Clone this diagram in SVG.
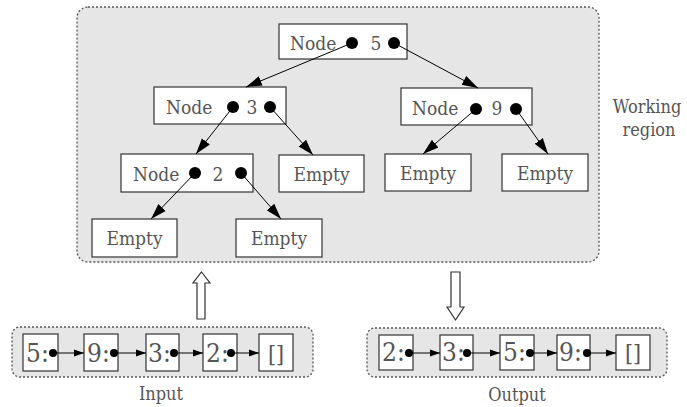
<svg xmlns="http://www.w3.org/2000/svg" width="687" height="407" viewBox="0 0 687 407">
  <style>
    .region { fill: #e6e6e6; stroke: #555; stroke-width: 1.3; stroke-dasharray: 2 2; }
    .box { fill: #fff; stroke: #333; stroke-width: 1.2; }
    .t { font-family: "DejaVu Serif Condensed", "DejaVu Serif", serif; font-stretch: condensed; fill: #555; }
    .lbl { font-size: 19px; }
    .side { font-size: 18px; }
    .cell { font-size: 26px; }
    .nil { font-size: 23px; }
    .dot { fill: #000; }
    .edge { stroke: #000; stroke-width: 1; fill: none; }
    .hollow { fill: #fff; stroke: #333; stroke-width: 1.2; }
  </style>
  <defs>
    <marker id="big" markerUnits="userSpaceOnUse" markerWidth="17" markerHeight="13" refX="16" refY="6.5" orient="auto">
      <path d="M0,1.5 L16,6.5 L0,11.5 Z" fill="#000"/>
    </marker>
    <marker id="small" markerUnits="userSpaceOnUse" markerWidth="11" markerHeight="8" refX="10" refY="4" orient="auto">
      <path d="M0,0.5 L10,4 L0,7.5 Z" fill="#000"/>
    </marker>
  </defs>

  <!-- Working region -->
  <g id="working">
    <rect class="region" x="77" y="7" width="522" height="255" rx="11"/>
    <text class="t side" x="647" y="113" text-anchor="middle">Working</text>
    <text class="t side" x="649" y="136" text-anchor="middle">region</text>
  </g>

  <!-- Tree nodes -->
  <g id="node5">
    <rect class="box" x="279" y="24" width="128" height="35"/>
    <text class="t lbl" x="290" y="50">Node</text>
    <text class="t lbl" x="376" y="50" text-anchor="middle">5</text>
    <circle class="dot" cx="352" cy="43" r="6"/>
    <circle class="dot" cx="394" cy="43" r="6"/>
  </g>
  <g id="node3">
    <rect class="box" x="154" y="87" width="132" height="37"/>
    <text class="t lbl" x="166" y="114">Node</text>
    <text class="t lbl" x="252" y="114" text-anchor="middle">3</text>
    <circle class="dot" cx="233" cy="107" r="6"/>
    <circle class="dot" cx="270" cy="107" r="6"/>
  </g>
  <g id="node9">
    <rect class="box" x="401" y="88" width="131" height="37"/>
    <text class="t lbl" x="412" y="115">Node</text>
    <text class="t lbl" x="497" y="115" text-anchor="middle">9</text>
    <circle class="dot" cx="476" cy="109" r="6"/>
    <circle class="dot" cx="516" cy="109" r="6"/>
  </g>
  <g id="node2">
    <rect class="box" x="121" y="154" width="132" height="38"/>
    <text class="t lbl" x="133" y="181">Node</text>
    <text class="t lbl" x="218" y="181" text-anchor="middle">2</text>
    <circle class="dot" cx="195" cy="173" r="6"/>
    <circle class="dot" cx="241" cy="173" r="6"/>
  </g>
  <g id="empty3r">
    <rect class="box" x="279" y="155" width="85" height="37"/>
    <text class="t lbl" x="321.5" y="181" text-anchor="middle">Empty</text>
  </g>
  <g id="empty9l">
    <rect class="box" x="385" y="154" width="86" height="37"/>
    <text class="t lbl" x="428" y="180" text-anchor="middle">Empty</text>
  </g>
  <g id="empty9r">
    <rect class="box" x="502" y="154" width="86" height="37"/>
    <text class="t lbl" x="545" y="180" text-anchor="middle">Empty</text>
  </g>
  <g id="empty2l">
    <rect class="box" x="92" y="219" width="85" height="38"/>
    <text class="t lbl" x="134.5" y="245" text-anchor="middle">Empty</text>
  </g>
  <g id="empty2r">
    <rect class="box" x="236" y="219" width="86" height="38"/>
    <text class="t lbl" x="279" y="245" text-anchor="middle">Empty</text>
  </g>

  <!-- Input list -->
  <g id="input">
    <rect class="region" x="12" y="327" width="301" height="50" rx="8"/>
    <rect class="box" x="23" y="334" width="35" height="37"/>
    <text class="t cell" x="26" y="362">5:</text>
    <circle class="dot" cx="53" cy="353" r="4"/>
    <rect class="box" x="84" y="334" width="34" height="37"/>
    <text class="t cell" x="87" y="362">9:</text>
    <circle class="dot" cx="114" cy="353" r="4"/>
    <rect class="box" x="146" y="334" width="33" height="37"/>
    <text class="t cell" x="148" y="362">3:</text>
    <circle class="dot" cx="174" cy="353" r="4"/>
    <rect class="box" x="203" y="334" width="34" height="37"/>
    <text class="t cell" x="206" y="362">2:</text>
    <circle class="dot" cx="231" cy="353" r="4"/>
    <rect class="box" x="259" y="334" width="34" height="37"/>
    <text class="t nil" x="276" y="362" text-anchor="middle">[]</text>
    <text class="t side" x="161" y="400" text-anchor="middle">Input</text>
  </g>

  <!-- Output list -->
  <g id="output">
    <rect class="region" x="367" y="328" width="300" height="49" rx="8"/>
    <rect class="box" x="379" y="335" width="34" height="35"/>
    <text class="t cell" x="382" y="361">2:</text>
    <circle class="dot" cx="409" cy="353" r="4"/>
    <rect class="box" x="440" y="335" width="33" height="35"/>
    <text class="t cell" x="442" y="361">3:</text>
    <circle class="dot" cx="467" cy="353" r="4"/>
    <rect class="box" x="500" y="335" width="34" height="35"/>
    <text class="t cell" x="503" y="361">5:</text>
    <circle class="dot" cx="530" cy="353" r="4"/>
    <rect class="box" x="557" y="335" width="33" height="35"/>
    <text class="t cell" x="559" y="361">9:</text>
    <circle class="dot" cx="587" cy="353" r="4"/>
    <rect class="box" x="616" y="335" width="34" height="35"/>
    <text class="t nil" x="633" y="361" text-anchor="middle">[]</text>
    <text class="t side" x="517" y="401" text-anchor="middle">Output</text>
  </g>

  <!-- Connectors -->
  <g id="connectors">
    <line class="edge" x1="352" y1="43" x2="246" y2="87" marker-end="url(#big)"/>
    <line class="edge" x1="394" y1="43" x2="478" y2="88" marker-end="url(#big)"/>
    <line class="edge" x1="233" y1="107" x2="196" y2="154" marker-end="url(#big)"/>
    <line class="edge" x1="270" y1="107" x2="313" y2="155" marker-end="url(#big)"/>
    <line class="edge" x1="195" y1="173" x2="151" y2="219" marker-end="url(#big)"/>
    <line class="edge" x1="241" y1="173" x2="281" y2="219" marker-end="url(#big)"/>
    <line class="edge" x1="476" y1="109" x2="423" y2="154" marker-end="url(#big)"/>
    <line class="edge" x1="516" y1="109" x2="548" y2="154" marker-end="url(#big)"/>

    <line class="edge" x1="53" y1="353" x2="84" y2="353" marker-end="url(#small)"/>
    <line class="edge" x1="114" y1="353" x2="146" y2="353" marker-end="url(#small)"/>
    <line class="edge" x1="174" y1="353" x2="203" y2="353" marker-end="url(#small)"/>
    <line class="edge" x1="231" y1="353" x2="259" y2="353" marker-end="url(#small)"/>

    <line class="edge" x1="409" y1="353" x2="440" y2="353" marker-end="url(#small)"/>
    <line class="edge" x1="467" y1="353" x2="500" y2="353" marker-end="url(#small)"/>
    <line class="edge" x1="530" y1="353" x2="557" y2="353" marker-end="url(#small)"/>
    <line class="edge" x1="587" y1="353" x2="616" y2="353" marker-end="url(#small)"/>

    <!-- hollow block arrows between list and working region -->
    <polygon class="hollow" points="201.5,272 210,283 205,283 205,319 197,319 197,283 193,283"/>
    <polygon class="hollow" points="451,272 460,272 460,307 464,307 455.5,320 447,307 451,307"/>
  </g>
</svg>
